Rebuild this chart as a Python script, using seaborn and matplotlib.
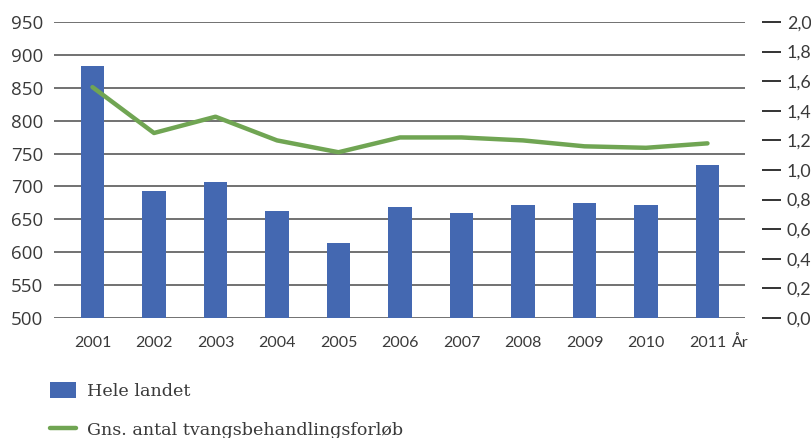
import matplotlib
matplotlib.use("Agg")
import matplotlib.pyplot as plt
from matplotlib.lines import Line2D
from matplotlib.patches import Patch
import seaborn as sns
import pandas as pd
import numpy as np

years = ["2001", "2002", "2003", "2004", "2005", "2006", "2007", "2008", "2009", "2010", "2011"]
hele_landet = [883, 693, 706, 663, 614, 668, 659, 672, 675, 672, 733]
gns_forloeb = [1.56, 1.25, 1.36, 1.20, 1.12, 1.22, 1.22, 1.20, 1.16, 1.15, 1.18]
left_ticks = [500, 550, 600, 650, 700, 750, 800, 850, 900, 950]
right_ticks = [0.0, 0.2, 0.4, 0.6, 0.8, 1.0, 1.2, 1.4, 1.6, 1.8, 2.0]
bar_label = "Hele landet"
line_label = "Gns. antal tvangsbehandlingsforløb"

BLUE = "#4468B1"
GREEN = "#70A553"
TEXT = "#3a3a3a"
GRID = "#4a4a4a"

sns.set_style("white")

df = pd.DataFrame({"år": years, "antal": hele_landet, "gns": gns_forloeb})
df["pos"] = np.arange(len(years))

fig = plt.figure(figsize=(8.12, 4.38), dpi=100)
ax = fig.add_axes([54 / 812, 1 - 318 / 438, 691 / 812, 296 / 438])

sns.barplot(data=df, x="år", y="antal", color=BLUE, width=0.375,
            saturation=1, linewidth=0, edgecolor="none", ax=ax, zorder=3)
ax.set_ylim(500, 950)
ax.set_xlim(-0.626, 10.61)
ax.set_yticks(left_ticks)
ax.set_yticklabels([str(t) for t in left_ticks])
ax.yaxis.grid(True, color=GRID, lw=1.1, zorder=0)
ax.set_axisbelow(True)
for s in ax.spines.values():
    s.set_visible(False)
ax.tick_params(axis="y", length=0, pad=8, labelsize=13.5,
               labelfontfamily="Open Sans", labelcolor=TEXT)
ax.tick_params(axis="x", length=0, pad=13, labelsize=11.5,
               labelfontfamily="Lato", labelcolor=TEXT)
ax.set_xlabel("")
ax.set_ylabel("")
ax.text(0.981, -0.084, "År", transform=ax.transAxes, ha="left", va="center",
        fontsize=11.5, family="Lato", color=TEXT)

ax2 = ax.twinx()
sns.lineplot(data=df, x="pos", y="gns", color=GREEN, lw=3.2, ax=ax2,
             zorder=4, solid_capstyle="round")
ax2.set_ylim(0, 2.0)
ax2.set_xlim(-0.626, 10.61)
ax2.set_xlabel("")
ax2.set_ylabel("")
ax2.grid(False)
for s in ax2.spines.values():
    s.set_visible(False)
ax2.spines["right"].set_position(("outward", 12))
ax2.set_yticks(right_ticks)
ax2.set_yticklabels([f"{t:.1f}".replace(".", ",") for t in right_ticks])
ax2.tick_params(axis="y", direction="out", length=14, width=1.4,
                color="#333333", pad=4, labelsize=12.8,
                labelfontfamily="Lato", labelcolor=TEXT)

handles = [Patch(facecolor=BLUE, edgecolor="none"),
           Line2D([0], [0], color=GREEN, lw=3.2)]
fig.legend(handles, [bar_label, line_label], loc="upper left",
           bbox_to_anchor=(50 / 812, 1 - 382 / 438), frameon=False,
           prop={"family": "DejaVu Serif", "size": 12.6}, labelcolor=TEXT,
           handlelength=1.5, handleheight=1.0, handletextpad=0.6,
           labelspacing=1.2, borderaxespad=0, borderpad=0)

fig.savefig("out.png", dpi=100)
